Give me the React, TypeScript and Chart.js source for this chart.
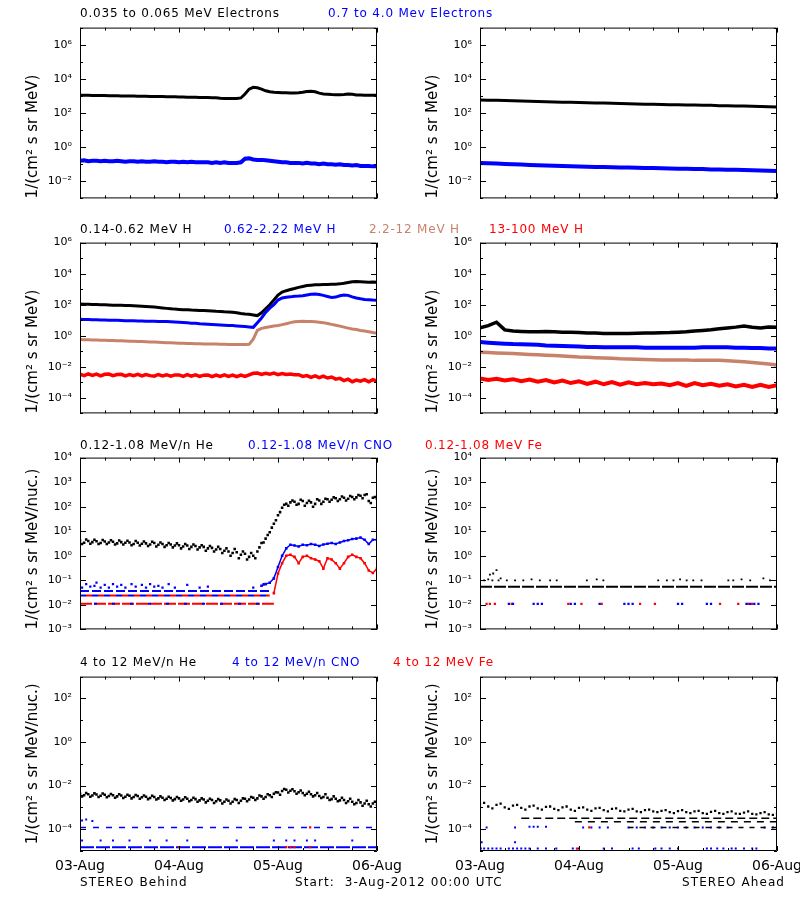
import React, { useEffect, useRef } from "react";
import { Chart, registerables } from "chart.js";

Chart.register(...registerables);

const FONT = "'DejaVu Sans', 'Liberation Sans', sans-serif";
const BLACK = "#000000";
const BLUE = "#0000ff";
const BROWN = "#c8826a";
const RED = "#ff0000";

// ---------- time grid: hours since 3-Aug-2012 00:00 UTC ----------
const HOURS_1H: number[] = Array.from({ length: 73 }, (_, i) => i);
const HOURS_HALF: number[] = Array.from({ length: 72 }, (_, i) => i + 0.5);
const HOURS_2H: number[] = Array.from({ length: 37 }, (_, i) => i * 2);
const HOURS_2H_ODD: number[] = Array.from({ length: 36 }, (_, i) => i * 2 + 1);
const TICK_HOURS = [0, 6, 12, 18, 24, 30, 36, 42, 48, 54, 60, 66, 72];
const DAY_LABELS = ["03-Aug", "04-Aug", "05-Aug", "06-Aug"];

// ---------- Row 1: electrons ----------
const E_LO_B = [
  1100, 1100, 1080, 1070, 1060, 1050, 1050, 1040, 1030, 1020,
  1000, 1000, 990, 980, 970, 960, 950, 940, 930, 920,
  910, 900, 890, 880, 870, 860, 850, 840, 830, 820,
  810, 800, 790, 780, 730, 710, 700, 700, 700, 760,
  1300, 2500, 3200, 3000, 2500, 2000, 1750, 1650, 1600, 1550,
  1550, 1500, 1500, 1550, 1650, 1800, 1900, 1750, 1450, 1300,
  1250, 1200, 1180, 1170, 1200, 1280, 1250, 1150, 1120, 1100,
  1100, 1080, 1080,
];
const E_HI_B = [
  0.16, 0.17, 0.15, 0.16, 0.16, 0.15, 0.16, 0.15, 0.15, 0.16,
  0.15, 0.14, 0.15, 0.15, 0.14, 0.15, 0.14, 0.14, 0.15, 0.14,
  0.14, 0.13, 0.14, 0.14, 0.13, 0.14, 0.13, 0.14, 0.13, 0.13,
  0.13, 0.13, 0.12, 0.13, 0.12, 0.13, 0.12, 0.12, 0.12, 0.13,
  0.21, 0.22, 0.19, 0.18, 0.18, 0.17, 0.16, 0.15, 0.14, 0.13,
  0.13, 0.12, 0.12, 0.12, 0.11, 0.12, 0.11, 0.11, 0.10, 0.11,
  0.10, 0.10, 0.095, 0.10, 0.09, 0.09, 0.085, 0.09, 0.08, 0.08,
  0.08, 0.075, 0.075,
];
const E_LO_A = [
  580, 565, 550, 535, 520, 500, 485, 470, 455, 445, 430, 420, 410,
  400, 390, 380, 370, 360, 350, 340, 330, 320, 315, 305, 300,
  295, 290, 285, 280, 270, 265, 260, 255, 245, 240, 230, 225,
];
const E_HI_A = [
  0.12, 0.115, 0.11, 0.105, 0.1, 0.095, 0.09, 0.087, 0.084, 0.081, 0.078, 0.076, 0.074,
  0.072, 0.07, 0.069, 0.067, 0.065, 0.064, 0.062, 0.061, 0.06, 0.058, 0.057, 0.055,
  0.054, 0.053, 0.052, 0.05, 0.049, 0.048, 0.047, 0.046, 0.045, 0.043, 0.042, 0.04,
];

// ---------- Row 2: protons ----------
const H_LO_B = [
  110, 108, 106, 104, 102, 100, 98, 96, 94, 92,
  91, 90, 88, 87, 84, 80, 77, 74, 70, 66,
  62, 58, 55, 52, 50, 48, 47, 45, 44, 43,
  42, 41, 40, 38, 37, 35, 34, 33, 30, 27,
  25, 24, 22, 20, 30, 55, 100, 200, 420, 650,
  800, 950, 1100, 1300, 1500, 1700, 1800, 1900, 1900, 2000,
  2000, 2100, 2100, 2200, 2400, 2700, 3000, 3100, 3000, 2900,
  2800, 2900, 2800,
];
const H_MID_B = [
  11.5, 11.3, 11, 10.8, 10.6, 10.4, 10.2, 10, 9.9, 9.8,
  9.6, 9.4, 9.3, 9.1, 9, 8.9, 8.7, 8.6, 8.5, 8.4,
  8.3, 8.2, 8, 7.7, 7.4, 7.1, 6.8, 6.5, 6.3, 6,
  5.8, 5.6, 5.4, 5.2, 5, 4.8, 4.6, 4.5, 4.3, 4.1,
  3.9, 3.7, 3.5, 7, 14, 32, 60, 100, 200, 270,
  300, 320, 350, 360, 380, 420, 470, 490, 450, 400,
  340, 290, 310, 380, 420, 400, 320, 270, 240, 220,
  210, 200, 195,
];
const H_HI_B = [
  0.57, 0.56, 0.55, 0.54, 0.53, 0.52, 0.51, 0.5, 0.49, 0.48,
  0.47, 0.46, 0.45, 0.44, 0.43, 0.42, 0.41, 0.4, 0.39, 0.38,
  0.37, 0.36, 0.35, 0.34, 0.33, 0.33, 0.32, 0.32, 0.31, 0.31,
  0.3, 0.3, 0.29, 0.29, 0.28, 0.28, 0.27, 0.27, 0.27, 0.27,
  0.27, 0.28, 0.6, 2.2, 3, 3.4, 3.8, 4.2, 4.6, 5.2,
  6, 7, 8, 8.3, 8.5, 8.3, 8.2, 8, 7.5, 7,
  6.2, 5.4, 4.8, 4.2, 3.6, 3.1, 2.7, 2.5, 2.2, 2,
  1.8, 1.6, 1.45,
];
const H_VHI_B = [
  3.4e-3, 2.7e-3, 3.5e-3, 2.8e-3, 3.4e-3, 2.6e-3, 3.3e-3, 3.4e-3, 2.7e-3, 3.2e-3,
  3.3e-3, 2.6e-3, 3.2e-3, 2.7e-3, 3.3e-3, 2.6e-3, 3.2e-3, 2.7e-3, 2.5e-3, 3.2e-3,
  2.6e-3, 3.1e-3, 2.5e-3, 3.0e-3, 3.0e-3, 2.4e-3, 3.1e-3, 2.5e-3, 3.0e-3, 2.4e-3,
  2.9e-3, 3.0e-3, 2.3e-3, 2.9e-3, 2.4e-3, 3.0e-3, 2.4e-3, 2.9e-3, 2.3e-3, 2.9e-3,
  2.4e-3, 3.0e-3, 3.8e-3, 4.0e-3, 3.2e-3, 3.8e-3, 3.3e-3, 3.9e-3, 3.1e-3, 3.7e-3,
  3.2e-3, 3.4e-3, 3.1e-3, 3.1e-3, 2.4e-3, 2.7e-3, 2.1e-3, 2.6e-3, 2.0e-3, 2.5e-3,
  1.9e-3, 2.2e-3, 1.6e-3, 1.8e-3, 1.3e-3, 1.6e-3, 1.1e-3, 1.4e-3, 1.2e-3, 1.5e-3,
  1.1e-3, 1.5e-3, 1.2e-3,
];
const H_LO_A = [
  3.2, 4.5, 7.5, 2.4, 2.0, 1.9, 1.8, 1.8, 1.9, 1.8, 1.7, 1.7, 1.6,
  1.5, 1.5, 1.4, 1.4, 1.4, 1.4, 1.45, 1.5, 1.5, 1.55, 1.6, 1.7,
  1.8, 2.0, 2.2, 2.4, 2.8, 3.2, 3.6, 4.3, 3.5, 3.2, 3.6, 3.5,
];
const H_MID_A = [
  0.39, 0.36, 0.33, 0.31, 0.29, 0.28, 0.27, 0.26, 0.24, 0.23, 0.22, 0.21, 0.2,
  0.19, 0.19, 0.18, 0.18, 0.18, 0.18, 0.18, 0.17, 0.17, 0.17, 0.17, 0.17,
  0.17, 0.17, 0.18, 0.18, 0.18, 0.18, 0.17, 0.17, 0.16, 0.16, 0.15, 0.15,
];
const H_HI_A = [
  0.087, 0.083, 0.079, 0.075, 0.071, 0.067, 0.063, 0.06, 0.056, 0.053, 0.05, 0.047, 0.043,
  0.041, 0.039, 0.037, 0.035, 0.033, 0.032, 0.031, 0.03, 0.029, 0.028, 0.028, 0.027,
  0.027, 0.026, 0.026, 0.026, 0.026, 0.025, 0.023, 0.021, 0.019, 0.017, 0.015, 0.013,
];
const H_VHI_A = [
  1.8e-3, 1.4e-3, 1.7e-3, 1.3e-3, 1.6e-3, 1.2e-3, 1.5e-3, 1.1e-3, 1.4e-3, 1.0e-3, 1.3e-3, 9e-4, 1.15e-3,
  8e-4, 1.1e-3, 7.5e-4, 1.05e-3, 7e-4, 1.0e-3, 7.5e-4, 9e-4, 7.5e-4, 8.5e-4, 6.5e-4, 9e-4,
  6e-4, 9e-4, 6.5e-4, 8e-4, 6e-4, 7.5e-4, 5.5e-4, 7e-4, 5e-4, 7e-4, 5e-4, 6.5e-4,
];

// ---------- Row 3: 0.12-1.08 MeV/n heavy ions ----------
const HE_LO_B = [
  4.2, 3.4, 4.0, 3.6, 3.9, 3.3, 3.8, 3.5, 3.7, 3.2,
  3.6, 3.4, 3.5, 3.0, 3.4, 3.1, 3.2, 2.9, 3.3, 2.8,
  3.0, 2.7, 2.9, 2.6, 2.7, 2.4, 2.6, 2.3, 2.5, 2.2,
  2.3, 2.0, 2.1, 1.8, 1.9, 1.6, 1.5, 1.3, 1.4, 1.1,
  1.2, 0.9, 1.0, 1.5, 3.3, 5, 9, 20, 45, 90,
  130, 150, 160, 130, 170, 140, 150, 130, 180, 160,
  200, 190, 220, 200, 230, 210, 250, 240, 280, 300,
  170, 230, 210,
];
const HE_LO_B_HALF = [
  3.0, 4.6, 3.1, 4.5, 3.0, 4.4, 3.0, 4.3, 2.9, 4.2,
  2.9, 4.1, 2.7, 4.0, 2.6, 3.8, 2.5, 3.7, 2.4, 3.5,
  2.3, 3.3, 2.2, 3.2, 2.0, 3.0, 1.9, 2.9, 1.8, 2.7,
  1.6, 2.5, 1.5, 2.3, 1.3, 2.0, 1.0, 1.9, 0.8, 1.5,
  0.7, 1.3, 0.8, 2.2, 3.5, 7, 14, 28, 60, 120,
  110, 180, 120, 190, 110, 175, 100, 200, 130, 210,
  160, 240, 170, 260, 180, 270, 200, 300, 220, 320,
  140, 250,
];
const HOURS_CNO_EVENT = [44, 45, 46, 47, 48, 49, 50, 51, 52, 53, 54, 55, 56, 57, 58, 59, 60, 61, 62, 63, 64, 65, 66, 67, 68, 69, 70, 71, 72];
const CNO_LO_B = [
  0.06, 0.07, 0.08, 0.12, 0.35, 1.0, 2.0, 2.8, 2.6, 2.4,
  2.8, 2.7, 3.0, 2.8, 2.5, 2.9, 3.1, 3.3, 3.0, 3.5,
  4.0, 4.3, 4.8, 5.0, 5.5, 4.5, 3.0, 4.5, 4.5,
];
const HOURS_FE_EVENT = [47, 48, 49, 50, 51, 52, 53, 54, 55, 56, 57, 58, 59, 60, 61, 62, 63, 64, 65, 66, 67, 68, 69, 70, 71, 72];
const FE_LO_B = [
  0.03, 0.19, 0.5, 1.0, 1.1, 0.9, 0.5, 0.9, 1.0, 0.8,
  0.7, 0.6, 0.3, 0.8, 0.7, 0.5, 0.3, 0.5, 0.9, 1.1,
  0.9, 0.8, 0.5, 0.25, 0.2, 0.3,
];
const FLOOR_HOURS_B = [0, 46];
const FLOOR_HOURS_FE_B = [0, 47];
const CNO_FLOOR_HI_B = [0.037, 0.037];
const CNO_FLOOR_B = [0.024, 0.024];
const FE_FLOOR_B = [0.011, 0.011];
const CNO_SCAT_HOURS_B = [0.5, 1.5, 2.5, 3.5, 4, 5, 6, 7, 8, 9, 10, 11, 12.5, 13.5, 15, 16, 17, 18, 19, 20, 21.5, 23, 26, 29, 31, 42, 44.5];
const CNO_SCAT_B = [0.05, 0.07, 0.055, 0.06, 0.08, 0.05, 0.065, 0.05, 0.07, 0.055, 0.065, 0.05, 0.07, 0.055, 0.065, 0.05, 0.07, 0.055, 0.06, 0.05, 0.07, 0.05, 0.065, 0.05, 0.055, 0.05, 0.07];
const FLOOR_HOURS_A = [0, 72];
const HE_FLOOR_A = [0.055, 0.055];
const HE_SCAT_HOURS_A = [1, 2, 2.4, 3, 3.2, 4, 4.5, 5, 6.5, 8.5, 10.5, 12.5, 14.5, 17, 18.6, 25.9, 28.3, 29.9, 43.2, 45.3, 46.9, 48.5, 50.1, 51.7, 53.7, 60.2, 61.4, 63.4, 65.5, 68.7, 70.3];
const HE_SCAT_A = [0.1, 0.11, 0.17, 0.1, 0.19, 0.26, 0.1, 0.12, 0.1, 0.1, 0.1, 0.11, 0.1, 0.1, 0.1, 0.1, 0.11, 0.1, 0.1, 0.1, 0.1, 0.11, 0.1, 0.1, 0.1, 0.1, 0.1, 0.11, 0.1, 0.12, 0.1];
const CNO_DOT_HOURS_A = [7, 8, 13, 14, 15, 22, 23, 29, 35, 36, 37, 48, 49, 55, 56, 64.6, 65.5, 66.5, 67.5, 72];
const CNO_DOT_A = [0.011, 0.011, 0.011, 0.011, 0.011, 0.011, 0.011, 0.011, 0.011, 0.011, 0.011, 0.011, 0.011, 0.011, 0.011, 0.011, 0.011, 0.011, 0.011, 0.011];
const FE_DOT_HOURS_A = [1.6, 2.4, 3.6, 7.7, 21.4, 24.6, 29.5, 38.8, 42.4, 58.2, 62.6, 65, 66];
const FE_DOT_A = [0.011, 0.011, 0.011, 0.011, 0.011, 0.011, 0.011, 0.011, 0.011, 0.011, 0.011, 0.011, 0.011];

// ---------- Row 4: 4-12 MeV/n heavy ions ----------
const HE_HI_B = [
  4.2e-3, 3.6e-3, 4.0e-3, 3.5e-3, 3.9e-3, 3.4e-3, 3.8e-3, 3.3e-3, 3.6e-3, 3.2e-3,
  3.5e-3, 3.1e-3, 3.4e-3, 3.0e-3, 3.3e-3, 2.9e-3, 3.1e-3, 2.7e-3, 3.0e-3, 2.6e-3,
  2.8e-3, 2.5e-3, 2.7e-3, 2.4e-3, 2.6e-3, 2.3e-3, 2.5e-3, 2.2e-3, 2.4e-3, 2.1e-3,
  2.3e-3, 2.0e-3, 2.2e-3, 1.9e-3, 2.1e-3, 1.8e-3, 2.0e-3, 1.8e-3, 2.2e-3, 2.0e-3,
  2.5e-3, 2.3e-3, 2.8e-3, 2.6e-3, 3.2e-3, 3.0e-3, 3.6e-3, 4.2e-3, 4.8e-3, 5.6e-3,
  6.5e-3, 5.8e-3, 5.5e-3, 5.0e-3, 4.6e-3, 4.2e-3, 4.0e-3, 3.6e-3, 3.3e-3, 3.0e-3,
  2.8e-3, 2.4e-3, 2.5e-3, 2.1e-3, 2.2e-3, 1.9e-3, 1.8e-3, 1.6e-3, 1.7e-3, 1.5e-3,
  1.4e-3, 1.5e-3, 1.3e-3,
];
const HE_HI_B_HALF = [
  3.2e-3, 4.6e-3, 3.1e-3, 4.4e-3, 3.0e-3, 4.3e-3, 2.9e-3, 4.1e-3, 2.8e-3, 4.0e-3,
  2.7e-3, 3.8e-3, 2.6e-3, 3.7e-3, 2.5e-3, 3.5e-3, 2.4e-3, 3.4e-3, 2.3e-3, 3.2e-3,
  2.2e-3, 3.1e-3, 2.1e-3, 3.0e-3, 2.0e-3, 2.9e-3, 1.9e-3, 2.8e-3, 1.8e-3, 2.6e-3,
  1.7e-3, 2.5e-3, 1.6e-3, 2.4e-3, 1.5e-3, 2.3e-3, 1.5e-3, 2.4e-3, 1.6e-3, 2.6e-3,
  1.9e-3, 3.0e-3, 2.2e-3, 3.5e-3, 2.5e-3, 4.0e-3, 3.0e-3, 5.0e-3, 3.8e-3, 7.0e-3,
  4.8e-3, 6.8e-3, 4.2e-3, 6.0e-3, 3.6e-3, 5.2e-3, 3.2e-3, 4.6e-3, 2.7e-3, 4.0e-3,
  2.2e-3, 3.2e-3, 1.9e-3, 2.8e-3, 1.6e-3, 2.5e-3, 1.4e-3, 2.2e-3, 1.2e-3, 2.0e-3,
  1.1e-3, 1.8e-3,
];
const CNO_HI_FLOOR_B = [1.2e-4, 1.2e-4];
const CNO_HI_BOTTOM_B = [1.5e-5, 1.5e-5];
const CNO_HI_DOT_HOURS_B = [0.5, 1.5, 3, 0.5, 5, 8, 12, 17, 21, 26, 38, 47, 50, 52, 55, 57, 66];
const CNO_HI_DOT_B = [2.5e-4, 2.8e-4, 2.4e-4, 3e-5, 3e-5, 3e-5, 3e-5, 3e-5, 3e-5, 3e-5, 3e-5, 3e-5, 3e-5, 3e-5, 3e-5, 3e-5, 3e-5];
const FE_HI_DOT_HOURS_B = [24, 50, 51, 52, 55.8, 55.8];
const FE_HI_DOT_B = [1.5e-5, 1.5e-5, 1.5e-5, 1.5e-5, 1.5e-5, 1.2e-4];

const HE_HI_A = [
  1.4e-3, 1.1e-3, 1.3e-3, 1.0e-3, 1.2e-3, 9.5e-4, 1.1e-3, 9e-4, 1.05e-3, 8.5e-4,
  1.0e-3, 8e-4, 9.5e-4, 8e-4, 9e-4, 7.5e-4, 8.5e-4, 7e-4, 8e-4, 6.5e-4,
  7.5e-4, 6.5e-4, 7e-4, 6e-4, 6.8e-4, 6e-4, 6.5e-4, 5.5e-4, 6.2e-4, 5.5e-4,
  6e-4, 5.2e-4, 5.8e-4, 5e-4, 5.5e-4, 4.8e-4, 5.2e-4,
];
const HE_HI_A_ODD = [
  1.6e-3, 9e-4, 1.5e-3, 8.5e-4, 1.3e-3, 8e-4, 1.2e-3, 8e-4, 1.1e-3, 7.5e-4,
  1.1e-3, 7e-4, 1.0e-3, 7e-4, 9.5e-4, 6.5e-4, 9e-4, 6.5e-4, 8.5e-4, 6e-4,
  8e-4, 6e-4, 7.5e-4, 5.5e-4, 7.5e-4, 5.5e-4, 7e-4, 5e-4, 7e-4, 5e-4,
  6.5e-4, 5e-4, 6.5e-4, 4.8e-4, 6e-4, 4.5e-4,
];
const HE_HI_FLOOR1_HOURS_A = [10, 72];
const HE_HI_FLOOR1_A = [3.2e-4, 3.2e-4];
const HE_HI_FLOOR2_HOURS_A = [23, 72];
const HE_HI_FLOOR2_A = [2.2e-4, 2.2e-4];
const HE_HI_FLOOR3_HOURS_A = [36, 72];
const HE_HI_FLOOR3_A = [1.2e-4, 1.2e-4];
const CNO_HI_DOT_HOURS_A = [1.6, 8.5, 12, 13, 14, 16, 25, 27, 29, 31, 36, 38, 40, 42, 44, 46, 48, 50, 52, 54, 56, 58, 60, 69, 71, 72,
  0.2, 1, 2, 3, 4, 5, 7, 8, 9, 10, 11, 12, 14, 16, 18.5, 22.5, 24, 30, 32, 37, 38.5, 42.5, 44, 46, 48, 55, 56, 57.5, 59, 61, 62, 64, 66, 67,
  0.4, 8.5];
const CNO_HI_DOT_A = [1.2e-4, 1.2e-4, 1.3e-4, 1.3e-4, 1.3e-4, 1.3e-4, 1.2e-4, 1.2e-4, 1.2e-4, 1.2e-4, 1.2e-4, 1.2e-4, 1.2e-4, 1.2e-4, 1.2e-4, 1.2e-4, 1.2e-4, 1.2e-4, 1.2e-4, 1.2e-4, 1.2e-4, 1.2e-4, 1.2e-4, 1.2e-4, 1.2e-4, 1.2e-4,
  1.3e-5, 1.3e-5, 1.3e-5, 1.3e-5, 1.3e-5, 1.3e-5, 1.3e-5, 1.3e-5, 1.3e-5, 1.3e-5, 1.3e-5, 1.3e-5, 1.3e-5, 1.3e-5, 1.3e-5, 1.3e-5, 1.3e-5, 1.3e-5, 1.3e-5, 1.3e-5, 1.3e-5, 1.3e-5, 1.3e-5, 1.3e-5, 1.3e-5, 1.3e-5, 1.3e-5, 1.3e-5, 1.3e-5, 1.3e-5, 1.3e-5, 1.3e-5, 1.3e-5, 1.3e-5,
  2.5e-5, 2.5e-5];
const FE_HI_DOT_HOURS_A = [26.5, 23.5];
const FE_HI_DOT_A = [1.2e-4, 1.3e-5];

// ---------- text ----------
const ROW_LEGENDS = [
  ["0.035 to 0.065 MeV Electrons", "0.7 to 4.0 Mev Electrons"],
  ["0.14-0.62 MeV H", "0.62-2.22 MeV H", "2.2-12 MeV H", "13-100 MeV H"],
  ["0.12-1.08 MeV/n He", "0.12-1.08 MeV/n CNO", "0.12-1.08 MeV Fe"],
  ["4 to 12 MeV/n He", "4 to 12 MeV/n CNO", "4 to 12 MeV Fe"],
];
const ROW_LEGEND_COLORS = [
  [BLACK, BLUE],
  [BLACK, BLUE, BROWN, RED],
  [BLACK, BLUE, RED],
  [BLACK, BLUE, RED],
];
const Y_TITLE_E = "1/(cm\u00B2 s sr MeV)";
const Y_TITLE_N = "1/(cm\u00B2 s sr MeV/nuc.)";
const FOOTER = ["STEREO Behind", "Start:  3-Aug-2012 00:00 UTC", "STEREO Ahead"];

// layout (positions only)
const LEGEND_X = [
  [80, 328],
  [80, 224, 369, 489],
  [80, 248, 425],
  [80, 232, 393],
];
const LEGEND_TOP = [7, 223, 439, 656];
const FOOTER_X = [80, 295, 682];
const FOOTER_TOP = 876;
const ROW_TOP = [13, 228, 443, 662];
const ROW_H = [200, 200, 201, 238];
const ROW_PAD_BOTTOM = [10, 10, 10, 25];

// ---------- helpers ----------
const pts = (hours: number[], vals: (number | null)[]) => hours.map((h, i) => ({ x: h, y: vals[i] }));

function lineDS(hours: number[], vals: number[], color: string, width: number, dash: number[] = [], dashOffset = 0) {
  return {
    data: pts(hours, vals),
    borderColor: color,
    backgroundColor: color,
    borderWidth: width,
    borderDash: dash,
    borderDashOffset: dashOffset,
    pointRadius: 0,
    tension: 0,
    fill: false,
    borderCapStyle: "butt",
  };
}
function dotDS(hours: number[], vals: number[], color: string, r = 1.8, withLine = 0) {
  return {
    data: pts(hours, vals),
    showLine: withLine > 0,
    borderWidth: withLine,
    borderColor: color,
    backgroundColor: color,
    pointStyle: "rect",
    pointRadius: r,
    pointBorderWidth: 0,
    pointBackgroundColor: color,
    tension: 0,
    fill: false,
  };
}

const SUP: Record<string, string> = {
  "0": "\u2070", "1": "\u00B9", "2": "\u00B2", "3": "\u00B3", "4": "\u2074",
  "5": "\u2075", "6": "\u2076", "7": "\u2077", "8": "\u2078", "9": "\u2079", "-": "\u207B",
};
const supExp = (e: number) => String(e).split("").map((c) => SUP[c] ?? c).join("");

const framePlugin = {
  id: "idlFrame",
  afterDraw(chart: any, _args: any, opts: any) {
    const { ctx, chartArea: a } = chart;
    const xs = chart.scales.x;
    const ys = chart.scales.y;
    const every = opts.every || 2;
    ctx.save();
    ctx.strokeStyle = "#000";
    ctx.lineWidth = 1;
    ctx.beginPath();
    ctx.rect(a.left + 0.5, a.top + 0.5, a.right - a.left - 1, a.bottom - a.top - 1);
    for (const t of ys.ticks) {
      const py = Math.round(ys.getPixelForValue(t.value)) + 0.5;
      const e = Math.round(Math.log10(t.value));
      const len = e % every === 0 ? 6 : 3;
      ctx.moveTo(a.left, py);
      ctx.lineTo(a.left + len, py);
      ctx.moveTo(a.right, py);
      ctx.lineTo(a.right - len, py);
    }
    for (const t of xs.ticks) {
      const px = Math.round(xs.getPixelForValue(t.value)) + 0.5;
      const len = t.value % 24 === 0 ? 5 : 3;
      ctx.moveTo(px, a.bottom);
      ctx.lineTo(px, a.bottom - len);
      ctx.moveTo(px, a.top);
      ctx.lineTo(px, a.top + len);
    }
    ctx.stroke();
    ctx.restore();
  },
};

type PanelCfg = {
  col: number;
  row: number;
  yMinExp: number;
  yMaxExp: number;
  every: number;
  yTitle: string;
  titleAlign: "start" | "center";
  datasets: any[];
};

const PANELS: PanelCfg[] = [
  {
    col: 0, row: 0, yMinExp: -3, yMaxExp: 7, every: 2, yTitle: Y_TITLE_E, titleAlign: "start",
    datasets: [lineDS(HOURS_1H, E_LO_B, BLACK, 3), lineDS(HOURS_1H, E_HI_B, BLUE, 4)],
  },
  {
    col: 1, row: 0, yMinExp: -3, yMaxExp: 7, every: 2, yTitle: Y_TITLE_E, titleAlign: "start",
    datasets: [lineDS(HOURS_2H, E_LO_A, BLACK, 3), lineDS(HOURS_2H, E_HI_A, BLUE, 4)],
  },
  {
    col: 0, row: 1, yMinExp: -5, yMaxExp: 6, every: 2, yTitle: Y_TITLE_E, titleAlign: "start",
    datasets: [
      lineDS(HOURS_1H, H_MID_B, BLUE, 3),
      lineDS(HOURS_1H, H_LO_B, BLACK, 3),
      lineDS(HOURS_1H, H_HI_B, BROWN, 3),
      lineDS(HOURS_1H, H_VHI_B, RED, 3.5),
    ],
  },
  {
    col: 1, row: 1, yMinExp: -5, yMaxExp: 6, every: 2, yTitle: Y_TITLE_E, titleAlign: "start",
    datasets: [
      lineDS(HOURS_2H, H_LO_A, BLACK, 3.5),
      lineDS(HOURS_2H, H_MID_A, BLUE, 4),
      lineDS(HOURS_2H, H_HI_A, BROWN, 3.5),
      lineDS(HOURS_2H, H_VHI_A, RED, 4),
    ],
  },
  {
    col: 0, row: 2, yMinExp: -3, yMaxExp: 4, every: 1, yTitle: Y_TITLE_N, titleAlign: "start",
    datasets: [
      dotDS(HOURS_1H, HE_LO_B, BLACK, 1.8),
      dotDS(HOURS_HALF, HE_LO_B_HALF, BLACK, 1.8),
      dotDS(HOURS_FE_EVENT, FE_LO_B, RED, 1.8, 1.5),
      dotDS(HOURS_CNO_EVENT, CNO_LO_B, BLUE, 1.8, 1.5),
      dotDS(CNO_SCAT_HOURS_B, CNO_SCAT_B, BLUE, 1.6),
      lineDS(FLOOR_HOURS_B, CNO_FLOOR_HI_B, BLUE, 2, [9, 3]),
      lineDS(FLOOR_HOURS_B, CNO_FLOOR_B, BLUE, 2, [6, 6]),
      lineDS(FLOOR_HOURS_B, CNO_FLOOR_B, RED, 2, [6, 6], 6),
      lineDS(FLOOR_HOURS_FE_B, FE_FLOOR_B, BLUE, 2, [3, 15], 4),
      lineDS(FLOOR_HOURS_FE_B, FE_FLOOR_B, RED, 2, [12, 2]),
    ],
  },
  {
    col: 1, row: 2, yMinExp: -3, yMaxExp: 4, every: 1, yTitle: Y_TITLE_N, titleAlign: "start",
    datasets: [
      dotDS(HE_SCAT_HOURS_A, HE_SCAT_A, BLACK, 1.3),
      lineDS(FLOOR_HOURS_A, HE_FLOOR_A, BLACK, 2, [12, 2]),
      dotDS(CNO_DOT_HOURS_A, CNO_DOT_A, BLUE, 1.6),
      dotDS(FE_DOT_HOURS_A, FE_DOT_A, RED, 1.6),
    ],
  },
  {
    col: 0, row: 3, yMinExp: -5, yMaxExp: 3, every: 2, yTitle: Y_TITLE_N, titleAlign: "center",
    datasets: [
      dotDS(HOURS_1H, HE_HI_B, BLACK, 1.8),
      dotDS(HOURS_HALF, HE_HI_B_HALF, BLACK, 1.8),
      dotDS(FE_HI_DOT_HOURS_B, FE_HI_DOT_B, RED, 1.6),
      dotDS(CNO_HI_DOT_HOURS_B, CNO_HI_DOT_B, BLUE, 1.4),
      lineDS(FLOOR_HOURS_A, CNO_HI_FLOOR_B, BLUE, 1.5, [6, 7]),
      lineDS(FLOOR_HOURS_A, CNO_HI_BOTTOM_B, BLUE, 2, [14, 2]),
    ],
  },
  {
    col: 1, row: 3, yMinExp: -5, yMaxExp: 3, every: 2, yTitle: Y_TITLE_N, titleAlign: "center",
    datasets: [
      dotDS(HOURS_2H, HE_HI_A, BLACK, 1.6),
      dotDS(HOURS_2H_ODD, HE_HI_A_ODD, BLACK, 1.6),
      lineDS(HE_HI_FLOOR1_HOURS_A, HE_HI_FLOOR1_A, BLACK, 1.5, [8, 4]),
      lineDS(HE_HI_FLOOR2_HOURS_A, HE_HI_FLOOR2_A, BLACK, 1.5, [7, 6]),
      lineDS(HE_HI_FLOOR3_HOURS_A, HE_HI_FLOOR3_A, BLACK, 1.5, [5, 6]),
      dotDS(FE_HI_DOT_HOURS_A, FE_HI_DOT_A, RED, 1.6),
      dotDS(CNO_HI_DOT_HOURS_A, CNO_HI_DOT_A, BLUE, 1.4),
    ],
  },
];

function Panel({ cfg }: { cfg: PanelCfg }) {
  const ref = useRef<HTMLCanvasElement>(null);
  const height = ROW_H[cfg.row];
  const showX = cfg.row === 3;
  useEffect(() => {
    if (!ref.current) return;
    const decades: number[] = [];
    for (let e = cfg.yMinExp; e <= cfg.yMaxExp; e++) decades.push(Math.pow(10, e));
    const chart = new Chart(ref.current, {
      type: "line",
      data: { datasets: cfg.datasets },
      options: {
        responsive: false,
        animation: false,
        devicePixelRatio: 1,
        layout: { padding: { left: 20, right: 53, top: 10, bottom: ROW_PAD_BOTTOM[cfg.row] } },
        plugins: {
          legend: { display: false },
          tooltip: { enabled: false },
          idlFrame: { every: cfg.every },
        } as any,
        scales: {
          x: {
            type: "linear",
            min: 0,
            max: 72,
            grid: { display: false, drawTicks: false },
            border: { display: false },
            afterBuildTicks: (s: any) => {
              s.ticks = TICK_HOURS.map((v) => ({ value: v }));
            },
            ticks: {
              display: showX,
              autoSkip: false,
              maxRotation: 0,
              minRotation: 0,
              padding: 7,
              color: BLACK,
              font: { family: FONT, size: 14 },
              callback: (v: any) => (Number(v) % 24 === 0 ? DAY_LABELS[Number(v) / 24] : ""),
            },
            afterFit: (s: any) => {
              s.height = showX ? 24 : 0;
            },
          },
          y: {
            type: "logarithmic",
            min: Math.pow(10, cfg.yMinExp),
            max: Math.pow(10, cfg.yMaxExp),
            grid: { display: false, drawTicks: false },
            border: { display: false },
            afterBuildTicks: (s: any) => {
              s.ticks = decades.map((v) => ({ value: v }));
            },
            ticks: {
              autoSkip: false,
              padding: 8,
              color: BLACK,
              font: { family: FONT, size: 11 },
              callback: (v: any) => {
                const e = Math.round(Math.log10(Number(v)));
                return e % cfg.every === 0 ? "10" + supExp(e) : "";
              },
            },
            title: {
              display: true,
              text: cfg.yTitle,
              color: BLACK,
              align: cfg.titleAlign,
              font: { family: FONT, size: 15 },
              padding: { top: 4, bottom: 0 },
            },
            afterFit: (s: any) => {
              s.width = 60;
            },
          },
        },
      } as any,
      plugins: [framePlugin],
    });
    return () => chart.destroy();
  }, []);
  return (
    <div style={{ position: "absolute", left: cfg.col * 400, top: ROW_TOP[cfg.row], width: 430, height }}>
      <canvas ref={ref} width={430} height={height} style={{ display: "block" }} />
    </div>
  );
}

const textStyle: React.CSSProperties = {
  position: "absolute",
  fontFamily: FONT,
  fontSize: 12,
  lineHeight: "12px",
  letterSpacing: "0.8px",
  whiteSpace: "pre",
};

export default function App() {
  return (
    <div style={{ position: "absolute", left: 0, top: 0, width: 800, height: 900, overflow: "hidden", background: "#fff" }}>
      {PANELS.map((p, i) => (
        <Panel key={i} cfg={p} />
      ))}
      {ROW_LEGENDS.map((row, r) =>
        row.map((txt, k) => (
          <span key={`l${r}-${k}`} style={{ ...textStyle, left: LEGEND_X[r][k], top: LEGEND_TOP[r], color: ROW_LEGEND_COLORS[r][k] }}>
            {txt}
          </span>
        ))
      )}
      {FOOTER.map((txt, k) => (
        <span key={`f${k}`} style={{ ...textStyle, left: FOOTER_X[k], top: FOOTER_TOP, color: BLACK, letterSpacing: "1.1px" }}>
          {txt}
        </span>
      ))}
    </div>
  );
}
